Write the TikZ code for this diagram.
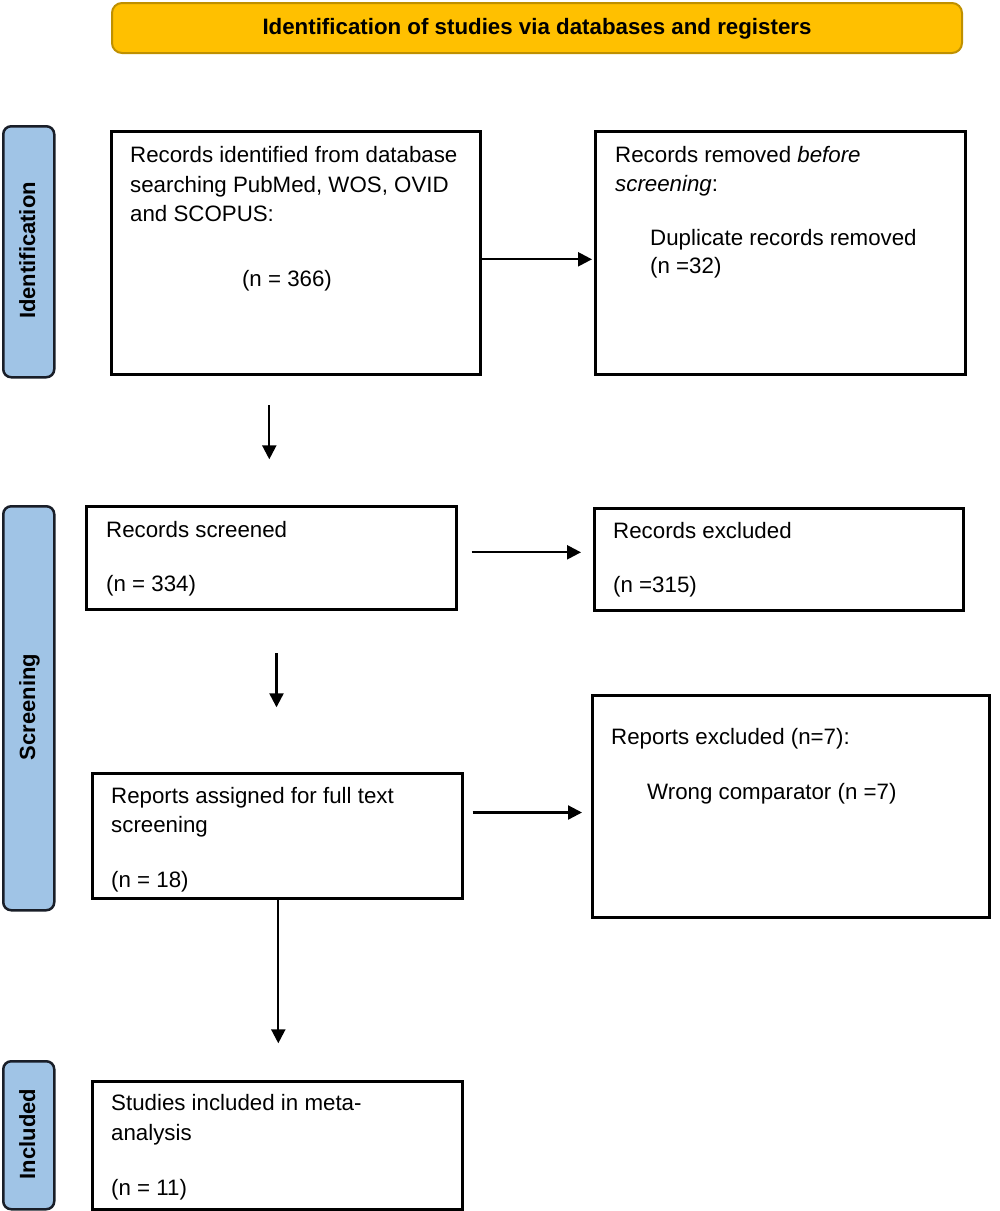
\documentclass[tikz,border=0pt]{standalone}
\usepackage{fontspec}
\setmainfont{Liberation Sans}
\usetikzlibrary{arrows.meta}
\definecolor{bannerfill}{RGB}{255,192,0}
\definecolor{bannerline}{RGB}{191,144,0}
\definecolor{sidefill}{RGB}{160,196,230}
\definecolor{sideline}{RGB}{25,30,40}
\begin{document}
\begin{tikzpicture}[x=1pt,y=-1pt,
  flowbox/.style={draw=black, line width=2.5pt, fill=white, inner sep=0pt, anchor=north west},
  sidebox/.style={draw=sideline, line width=2.5pt, fill=sidefill, rounded corners=8pt, inner sep=0pt, anchor=north west, minimum width=51pt},
  bannerbox/.style={draw=bannerline, line width=2pt, fill=bannerfill, rounded corners=10pt, inner sep=0pt, anchor=north west},
  txt/.style={anchor=base west, inner sep=0pt, font=\fontsize{22.3}{29.5}\selectfont},
  sidetxt/.style={rotate=90, anchor=base, inner sep=0pt, font=\fontsize{22}{26}\selectfont\bfseries},
  arr/.style={line width=2.3pt, -{Triangle[length=14pt,width=14pt]}}
]
\useasboundingbox (0,0) rectangle (1000,1211);

% banner
\node[bannerbox, minimum width=850pt, minimum height=50pt] (banner) at (111,2) {};
\node[anchor=base, inner sep=0pt, font=\fontsize{22.3}{26}\selectfont\bfseries] (bannertxt) at (537,34) {Identification of studies via databases and registers};

% side labels
\node[sidebox, minimum height=251pt] (sid) at (2,125) {};
\node[sidetxt] (sidt) at (35,250.5) {Identification};
\node[sidebox, minimum height=404pt] (sscr) at (2,505) {};
\node[sidetxt] (sscrt) at (35,707) {Screening};
\node[sidebox, minimum height=148pt] (sinc) at (2,1060) {};
\node[sidetxt] (sinct) at (35,1134) {Included};

% boxes
\node[flowbox, minimum width=369pt, minimum height=243pt] (b1) at (110,130) {};
\node[flowbox, minimum width=370pt, minimum height=243pt] (b2) at (594,130) {};
\node[flowbox, minimum width=370pt, minimum height=103pt] (b3) at (85,505) {};
\node[flowbox, minimum width=369pt, minimum height=102pt] (b4) at (593,507) {};
\node[flowbox, minimum width=370pt, minimum height=125pt] (b5) at (91,772) {};
\node[flowbox, minimum width=397pt, minimum height=222pt] (b6) at (591,694) {};
\node[flowbox, minimum width=370pt, minimum height=128pt] (b7) at (91,1080) {};

% texts
\node[txt] (t1a) at (130,162.5) {Records identified from database};
\node[txt] (t1b) at (130,192) {searching PubMed, WOS, OVID};
\node[txt] (t1c) at (130,221.5) {and SCOPUS:};
\node[txt, anchor=base] (t1d) at (287,286.5) {(n = 366)};

\node[txt] (t2a) at (615,162) {Records removed \textit{before}};
\node[txt] (t2b) at (615,191) {\textit{screening}:};
\node[txt] (t2c) at (650,245) {Duplicate records removed};
\node[txt] (t2d) at (650,273.5) {(n =32)};

\node[txt] (t3a) at (106,537) {Records screened};
\node[txt] (t3b) at (106,591) {(n = 334)};

\node[txt] (t4a) at (613,538) {Records excluded};
\node[txt] (t4b) at (613,592) {(n =315)};

\node[txt] (t5a) at (111,803) {Reports assigned for full text};
\node[txt] (t5b) at (111,832.5) {screening};
\node[txt] (t5c) at (111,887) {(n = 18)};

\node[txt] (t6a) at (611,744) {Reports excluded (n=7):};
\node[txt] (t6b) at (647,799) {Wrong comparator (n =7)};

\node[txt] (t7a) at (111,1110.5) {Studies included in meta-};
\node[txt] (t7b) at (111,1140) {analysis};
\node[txt] (t7c) at (111,1195) {(n = 11)};

% arrow end points
\coordinate (a1s) at (482,259.3);
\coordinate (a1e) at (592,259.3);
\coordinate (a2s) at (269.3,405);
\coordinate (a2e) at (269.3,459.3);
\coordinate (a3s) at (471.7,552.3);
\coordinate (a3e) at (581,552.3);
\coordinate (a4s) at (276.5,653);
\coordinate (a4e) at (276.5,707.3);
\coordinate (a5s) at (472.7,812.5);
\coordinate (a5e) at (582,812.5);
\coordinate (a6e) at (278.3,1043.3);

\draw[arr] (a1s) -- (a1e);
\draw[arr] (a2s) -- (a2e);
\draw[arr] (a3s) -- (a3e);
\draw[arr] (a4s) -- (a4e);
\draw[arr] (a5s) -- (a5e);
\draw[arr] (b5.south -| a6e) -- (a6e);
\end{tikzpicture}
\end{document}
